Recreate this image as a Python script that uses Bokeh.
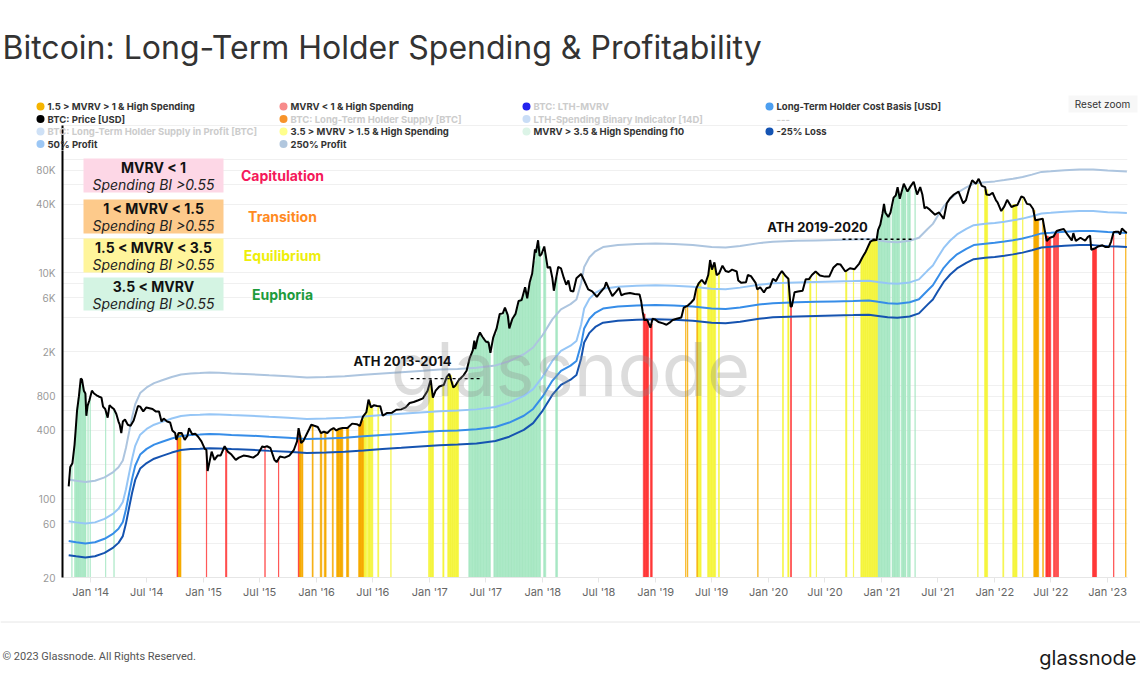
import pandas as pd
from bokeh.plotting import figure
from bokeh.layouts import column
from bokeh.models import (ColumnDataSource, Range1d, FixedTicker, DatetimeTickFormatter,
                          CustomJSTickFormatter, Label, BoxAnnotation)
from bokeh.embed import file_html
from bokeh.resources import INLINE

# ----------------------------------------------------------------- data
price_dates = [
    "2013-10-22","2013-10-27","2013-11-03","2013-11-10","2013-11-14","2013-11-18","2013-11-24","2013-11-30","2013-12-04","2013-12-10","2013-12-15","2013-12-18","2013-12-22","2013-12-28",
    "2014-01-05","2014-01-12","2014-01-20","2014-01-27","2014-02-05","2014-02-10","2014-02-17","2014-02-25","2014-03-03","2014-03-10","2014-03-17","2014-03-25","2014-04-01","2014-04-05","2014-04-10","2014-04-15","2014-04-22","2014-05-01","2014-05-10","2014-05-20","2014-05-28","2014-06-03","2014-06-10","2014-06-20","2014-06-30","2014-07-10","2014-07-20","2014-07-30","2014-08-10","2014-08-18","2014-08-25","2014-09-05","2014-09-15","2014-09-22","2014-10-01","2014-10-05","2014-10-12","2014-10-22","2014-11-01","2014-11-10","2014-11-15","2014-11-25","2014-12-05","2014-12-15","2014-12-25",
    "2015-01-05","2015-01-10","2015-01-14","2015-01-20","2015-01-27","2015-02-05","2015-02-15","2015-02-25","2015-03-10","2015-03-20","2015-04-01","2015-04-15","2015-04-25","2015-05-10","2015-05-25","2015-06-10","2015-06-25","2015-07-10","2015-07-15","2015-07-25","2015-08-05","2015-08-18","2015-08-25","2015-09-05","2015-09-20","2015-10-05","2015-10-20","2015-10-30","2015-11-04","2015-11-08","2015-11-12","2015-11-20","2015-11-30","2015-12-08","2015-12-15","2015-12-25",
    "2016-01-05","2016-01-15","2016-01-25","2016-02-05","2016-02-15","2016-02-25","2016-03-05","2016-03-15","2016-03-25","2016-04-10","2016-04-25","2016-05-10","2016-05-20","2016-05-30","2016-06-10","2016-06-17","2016-06-25","2016-07-05","2016-07-15","2016-07-25","2016-08-02","2016-08-15","2016-09-01","2016-09-15","2016-10-01","2016-10-15","2016-10-28","2016-11-10","2016-11-25","2016-12-10","2016-12-25",
    "2017-01-04","2017-01-11","2017-01-20","2017-02-01","2017-02-15","2017-02-25","2017-03-05","2017-03-18","2017-03-25","2017-04-05","2017-04-20","2017-04-30","2017-05-10","2017-05-20","2017-05-25","2017-05-28","2017-06-05","2017-06-12","2017-06-20","2017-07-01","2017-07-10","2017-07-16","2017-07-25","2017-08-05","2017-08-15","2017-08-25","2017-09-01","2017-09-10","2017-09-15","2017-09-25","2017-10-05","2017-10-15","2017-10-25","2017-11-05","2017-11-12","2017-11-20","2017-11-28","2017-12-07","2017-12-10","2017-12-17","2017-12-22","2017-12-28",
    "2018-01-06","2018-01-12","2018-01-17","2018-01-25","2018-02-01","2018-02-06","2018-02-12","2018-02-20","2018-03-01","2018-03-10","2018-03-18","2018-03-25","2018-04-01","2018-04-10","2018-04-20","2018-05-05","2018-05-15","2018-05-28","2018-06-10","2018-06-25","2018-07-05","2018-07-20","2018-07-25","2018-08-05","2018-08-14","2018-08-25","2018-09-05","2018-09-12","2018-09-25","2018-10-10","2018-10-25","2018-11-10","2018-11-15","2018-11-20","2018-11-25","2018-12-05","2018-12-15","2018-12-22","2018-12-30",
    "2019-01-10","2019-01-25","2019-02-05","2019-02-15","2019-02-25","2019-03-10","2019-03-25","2019-04-02","2019-04-15","2019-04-25","2019-05-05","2019-05-12","2019-05-20","2019-05-30","2019-06-10","2019-06-20","2019-06-26","2019-07-02","2019-07-10","2019-07-17","2019-07-25","2019-08-05","2019-08-15","2019-08-25","2019-09-05","2019-09-20","2019-09-25","2019-10-05","2019-10-20","2019-10-26","2019-11-05","2019-11-20","2019-11-25","2019-12-05","2019-12-17","2019-12-25",
    "2020-01-05","2020-01-15","2020-01-25","2020-02-05","2020-02-13","2020-02-25","2020-03-05","2020-03-12","2020-03-16","2020-03-25","2020-04-05","2020-04-20","2020-04-30","2020-05-10","2020-05-20","2020-06-01","2020-06-15","2020-07-01","2020-07-15","2020-07-28","2020-08-10","2020-08-20","2020-09-05","2020-09-20","2020-10-05","2020-10-20","2020-10-30","2020-11-10","2020-11-25","2020-12-01","2020-12-15","2020-12-20","2020-12-27",
    "2021-01-03","2021-01-08","2021-01-12","2021-01-22","2021-01-29","2021-02-08","2021-02-15","2021-02-21","2021-02-28","2021-03-13","2021-03-25","2021-04-05","2021-04-14","2021-04-25","2021-05-05","2021-05-12","2021-05-19","2021-05-25","2021-06-05","2021-06-22","2021-07-05","2021-07-20","2021-07-30","2021-08-10","2021-08-22","2021-09-06","2021-09-21","2021-09-30","2021-10-10","2021-10-20","2021-11-01","2021-11-10","2021-11-20","2021-12-01","2021-12-05","2021-12-15","2021-12-25",
    "2022-01-05","2022-01-10","2022-01-22","2022-02-01","2022-02-10","2022-02-24","2022-03-05","2022-03-15","2022-03-28","2022-04-05","2022-04-15","2022-04-25","2022-05-05","2022-05-12","2022-05-25","2022-06-05","2022-06-13","2022-06-18","2022-06-28","2022-07-10","2022-07-20","2022-07-30","2022-08-12","2022-08-25","2022-09-07","2022-09-12","2022-09-20","2022-10-05","2022-10-20","2022-10-29","2022-11-05","2022-11-09","2022-11-20","2022-12-01","2022-12-15","2022-12-25",
    "2023-01-05","2023-01-12","2023-01-20","2023-01-28","2023-02-05","2023-02-10","2023-02-16","2023-02-25","2023-03-04",
]
price_usd = [
    128,190,205,300,420,600,800,1150,1130,900,850,540,660,740,
    900,850,820,800,780,650,620,520,670,640,620,560,480,450,380,480,500,450,440,490,580,660,650,590,640,630,620,590,590,480,510,480,470,400,380,330,380,380,330,360,420,370,375,350,320,
    275,270,175,210,260,220,240,240,290,260,245,220,230,240,237,230,245,290,285,290,280,220,210,235,230,240,270,320,420,370,310,325,370,410,450,440,
    430,380,390,380,405,420,400,415,420,420,460,455,440,530,580,750,640,670,660,655,540,570,575,610,615,640,700,715,740,770,900,
    1130,780,900,980,1010,1190,1270,960,1000,1120,1230,1350,1750,2050,2500,2100,2650,2950,2700,2450,2400,1950,2650,3200,4300,4350,4900,4200,3200,3900,4300,5600,5700,7400,5900,8200,9800,16000,15000,19300,14000,14500,
    17000,13500,11000,11200,9000,6900,8500,11200,10900,9000,7800,8500,6900,6800,8900,9700,8500,7100,6800,6100,6600,7400,8200,7000,6200,6700,7300,6300,6500,6600,6450,6400,5600,4500,3800,3800,3250,3900,3850,
    3650,3550,3450,3600,3800,3900,4000,4900,5100,5400,5800,7200,8000,8600,7900,9500,12900,10600,12300,9500,9800,11500,10300,10100,10600,10200,8500,8100,8200,9500,9300,8100,7100,7400,6650,7250,
    7400,8800,8400,9600,10300,9300,8800,5000,5000,6700,6800,6900,8700,8700,9500,10200,9400,9200,9200,11000,11900,11800,10200,10900,10700,12000,13600,15300,18800,19200,19400,23800,26500,
    33000,40500,34000,31000,34000,46000,48000,57000,45000,61000,52000,58500,63500,49000,57000,49000,37000,38000,36000,32500,34000,29800,41000,45500,49000,52000,41000,43800,55000,65500,61000,67500,58500,57000,49000,48500,50800,
    43500,41800,35000,38500,44000,38000,39000,39500,47200,46000,40500,40000,36500,29000,29500,29900,22500,19000,20300,20800,23300,23800,24300,21500,19200,22300,19000,20300,19100,20700,21200,15900,16300,17000,17400,16800,
    16850,18800,22700,23000,23000,21700,24500,23200,22400,
]

band_dates = [
    "2013-10-22","2013-11-15","2013-12-15","2014-01-15","2014-02-15","2014-03-15","2014-04-01","2014-04-15","2014-04-25","2014-05-05","2014-05-15","2014-05-25","2014-06-10","2014-07-01","2014-07-25","2014-08-20","2014-09-20","2014-10-20","2014-11-20","2014-12-20",
    "2015-01-20","2015-02-20","2015-04-01","2015-06-01","2015-08-01","2015-10-01","2015-12-01",
    "2016-02-01","2016-04-01","2016-06-01","2016-08-01","2016-10-01","2016-12-01",
    "2017-02-01","2017-04-01","2017-06-01","2017-08-01","2017-09-15","2017-11-01","2017-12-01",
    "2018-01-01","2018-02-01","2018-03-01","2018-04-01","2018-04-20","2018-05-05","2018-05-15","2018-06-01","2018-06-20","2018-07-15","2018-09-01","2018-11-01",
    "2019-01-01","2019-03-01","2019-05-01","2019-07-01","2019-08-15","2019-10-01","2019-12-01",
    "2020-01-15","2020-04-01","2020-06-01","2020-08-01","2020-10-01","2020-11-20","2020-12-20",
    "2021-01-20","2021-02-20","2021-04-01","2021-05-01","2021-05-28","2021-06-15","2021-06-30","2021-07-20","2021-08-10","2021-09-01","2021-10-01","2021-10-25","2021-12-01",
    "2022-01-01","2022-02-01","2022-03-01","2022-04-01","2022-05-01","2022-06-01","2022-07-01","2022-08-15","2022-10-01","2022-11-15",
    "2023-01-01","2023-02-01","2023-03-04",
]
lth_cost_basis = [
    42,41,40,41,44,49,54,62,80,110,150,195,245,275,300,318,340,358,365,368,
    372,370,365,360,352,345,337,
    340,345,355,365,375,385,
    395,400,410,430,470,540,620,
    800,1100,1350,1500,1650,2300,3200,3900,4400,4800,5000,5100,
    5150,5100,5000,4800,4750,4900,5200,
    5350,5450,5500,5550,5600,5650,5500,
    5350,5300,5450,5800,6900,7700,9000,11000,12800,14500,16200,17500,18000,
    18300,18800,19300,20000,21000,22200,22500,23000,23300,23300,
    22800,22600,22400,
]
loss_25 = [
    31.5,30.8,30,30.8,33,36.8,40.5,46.5,60,82.5,112.5,146,184,206,225,238.5,255,268.5,274,276,
    279,277.5,274,270,264,259,253,
    255,259,266,274,281,289,
    296,300,307.5,322.5,352.5,405,465,
    600,825,1012,1125,1237,1725,2400,2925,3300,3600,3750,3825,
    3862,3825,3750,3600,3562,3675,3900,
    4012,4087,4125,4162,4200,4237,4125,
    4012,3975,4087,4350,5175,5775,6750,8250,9600,10875,12150,13125,13500,
    13725,14100,14475,15000,15750,16650,16875,17250,17475,17475,
    17100,16950,16800,
]
profit_50 = [
    63,61.5,60,61.5,66,73.5,81,93,120,165,225,292.5,367.5,412.5,450,477,510,537,547.5,552,
    558,555,547.5,540,528,517.5,505.5,
    510,517.5,532.5,547.5,562.5,577.5,
    592.5,600,615,645,705,810,930,
    1200,1650,2025,2250,2475,3450,4800,5850,6600,7200,7500,7650,
    7725,7650,7500,7200,7125,7350,7800,
    8025,8175,8250,8325,8400,8475,8250,
    8025,7950,8175,8700,10350,11550,13500,16500,19200,21750,24300,26250,27000,
    27450,28200,28950,30000,31500,33300,33750,34500,34950,34950,
    34200,33900,33600,
]
profit_250 = [
    147,143.5,140,143.5,154,171.5,189,217,280,385,525,682.5,857.5,962.5,1050,1113,1190,1253,1277.5,1288,
    1302,1295,1277.5,1260,1232,1207.5,1179.5,
    1190,1207.5,1242.5,1277.5,1312.5,1347.5,
    1382.5,1400,1435,1505,1645,1890,2170,
    2800,3850,4725,5250,5775,8050,11200,13650,15400,16800,17500,17850,
    18025,17850,17500,16800,16625,17150,18200,
    18725,19075,19250,19425,19600,19775,19250,
    18725,18550,19075,20300,24150,26950,31500,38500,44800,50750,56700,61250,63000,
    64050,65800,67550,70000,73500,77700,78750,80500,81550,81550,
    79800,79100,78400,
]

# LTH high-spending days: (first day, number of days, BTC price on those days)
spend_mvrv_below_1 = [
    ("2014-10-07",2,340),("2015-01-10",1,265),("2015-03-13",4,270),("2015-07-18",1,285),("2015-08-31",1,230),
    ("2015-11-03",2,400),("2018-11-22",6,4300),("2018-11-28",6,3900),("2018-12-04",5,3750),("2018-12-15",6,3500),
    ("2020-03-12",3,5200),("2022-06-15",8,21000),("2022-06-23",8,20000),("2022-07-10",4,21000),("2022-07-16",4,22500),
    ("2022-07-22",4,23000),("2022-11-13",13,16400),("2023-01-20",1,21500),
]
spend_mvrv_1_to_1_5 = [
    ("2014-10-09",11,375),("2015-11-05",8,360),("2015-11-14",4,330),("2015-12-18",3,440),("2016-01-13",5,385),
    ("2016-01-26",6,385),("2016-02-21",3,410),("2016-03-06",10,410),("2016-03-16",10,418),("2016-04-07",7,420),
    ("2016-05-16",8,450),("2016-05-24",8,490),("2019-04-08",1,5100),("2019-04-14",1,5150),("2019-05-14",2,7400),
    ("2019-11-27",1,7100),("2022-05-07",4,35500),("2022-05-11",12,29500),("2022-06-05",2,29900),("2023-02-28",1,23000),
]
spend_mvrv_1_5_to_3_5 = [
    ("2016-06-01",5,540),("2016-06-06",5,580),("2016-06-14",4,700),("2016-06-18",5,730),("2016-06-23",4,650),
    ("2016-06-27",4,660),("2016-07-17",3,660),("2016-08-28",1,575),("2016-12-28",4,930),("2017-01-01",6,1050),
    ("2017-01-07",6,850),("2017-02-12",4,1000),("2017-02-28",6,1210),("2017-03-06",6,1230),("2017-03-12",6,1080),
    ("2017-03-18",6,960),("2017-03-24",6,1010),("2017-03-30",5,1080),("2019-05-16",6,8000),("2019-05-22",6,8200),
    ("2019-06-18",5,9500),("2019-06-23",5,12000),("2019-06-28",5,11500),("2019-07-03",5,11000),("2019-07-08",6,11800),
    ("2019-07-23",3,9800),("2020-02-15",3,10000),("2020-03-03",4,8900),("2020-05-13",4,9000),("2020-06-03",1,10000),
    ("2020-09-06",4,10300),("2020-10-01",1,10700),("2020-10-25",6,13000),("2020-10-31",6,13700),("2020-11-06",6,15000),
    ("2020-11-12",6,16000),("2020-11-18",6,17800),("2020-11-24",6,18700),("2020-11-30",6,19100),("2020-12-06",6,19200),
    ("2020-12-12",6,19500),("2021-11-07",1,64000),("2021-11-29",10,54000),("2022-01-27",3,37000),("2022-02-28",7,40000),
    ("2022-03-07",7,40000),("2022-04-01",1,45000),
]
spend_mvrv_above_3_5 = [
    ("2013-11-01",1,205),("2013-11-10",4,330),("2013-11-14",4,450),("2013-11-18",3,650),("2013-11-21",4,780),
    ("2013-11-25",4,950),("2013-11-29",3,1150),("2013-12-02",4,1120),("2013-12-06",4,980),("2013-12-10",3,900),
    ("2013-12-13",4,840),("2013-12-23",1,680),("2013-12-30",1,760),("2014-02-18",1,610),("2014-03-17",1,620),
    ("2017-05-07",5,1700),("2017-05-12",5,1800),("2017-05-17",5,2050),("2017-05-22",5,2300),("2017-05-27",5,2300),
    ("2017-06-01",5,2500),("2017-06-06",5,2750),("2017-06-11",5,2900),("2017-06-16",5,2600),("2017-06-21",5,2650),
    ("2017-06-26",5,2500),("2017-07-01",5,2450),("2017-07-06",5,2500),("2017-07-11",5,2300),("2017-07-27",5,2700),
    ("2017-08-01",5,2850),("2017-08-06",5,3300),("2017-08-11",5,3800),("2017-08-16",5,4250),("2017-08-21",5,4100),
    ("2017-08-26",5,4400),("2017-08-31",5,4700),("2017-09-05",5,4450),("2017-09-10",5,4100),("2017-09-15",5,3500),
    ("2017-09-20",5,3800),("2017-09-25",5,3900),("2017-09-30",5,4300),("2017-10-05",5,4400),("2017-10-10",5,4900),
    ("2017-10-15",5,5600),("2017-10-20",5,5900),("2017-10-25",5,5800),("2017-10-30",5,6400),("2017-11-04",5,7300),
    ("2017-11-09",5,6800),("2017-11-14",5,6600),("2017-11-19",5,8000),("2017-11-24",5,8800),("2017-11-29",5,10500),
    ("2017-12-04",5,12500),("2017-12-09",5,16000),("2017-12-14",5,18000),("2017-12-19",6,17000),("2018-01-04",7,15000),
    ("2018-02-12",6,9000),("2020-12-18",5,23000),("2020-12-23",5,25500),("2020-12-28",5,28500),("2021-01-02",5,33000),
    ("2021-01-07",5,39000),("2021-01-12",5,35000),("2021-01-17",5,33000),("2021-01-22",6,31500),("2021-02-03",5,38000),
    ("2021-02-08",5,46000),("2021-02-13",5,48000),("2021-02-18",5,54000),("2021-02-23",5,48000),("2021-03-05",5,50000),
    ("2021-03-10",5,57000),("2021-03-15",5,58000),("2021-03-25",4,53000),("2021-03-30",4,58000),("2021-04-18",1,60000),
]

ath_2013_2014_span = ["2016-10-31", "2017-06-14"]
ath_2013_2014_price = 1150
ath_2019_2020_span = ["2020-08-27", "2021-04-14"]
ath_2019_2020_price = 19700

x_tick_dates = [f"{y}-{m}-01" for y in range(2014, 2024) for m in ("01", "07")][:-1]
y_tick_values = [20, 60, 100, 400, 800, 2000, 6000, 10000, 40000, 80000]
y_grid_values = [20, 40, 60, 80, 100, 200, 400, 600, 800, 1000, 2000, 4000, 6000, 8000,
                 10000, 20000, 40000, 60000, 80000, 100000, 200000]

assert len(price_dates) == len(price_usd)
for arr in (lth_cost_basis, loss_25, profit_50, profit_250):
    assert len(arr) == len(band_dates)

# ----------------------------------------------------------------- layout (page pixels)
PAGE_W = 1140
HEADER_H, MAIN_H, FOOTER_H = 150, 460, 84
FRAME_LEFT, FRAME_RIGHT = 62, 1127          # plot frame, page x
FRAME_TOP, FRAME_BOTTOM = 150, 577          # plot frame, page y
AXIS_TOP = 125                               # page y of the 200K line
y_axis_min = 20
# the log axis spans 20 .. 200K between AXIS_TOP and FRAME_BOTTOM; the frame starts a bit lower
y_frame_max = y_axis_min * 10 ** (4 * (FRAME_BOTTOM - FRAME_TOP) / (FRAME_BOTTOM - AXIS_TOP))


def no_align(f):
    try:
        f.frame_align = False
    except Exception:
        pass


def deco_figure(h):
    f = figure(width=PAGE_W, height=h, x_range=Range1d(0, PAGE_W), y_range=Range1d(h, 0),
               x_axis_location=None, y_axis_location=None, output_backend="svg",
               toolbar_location=None, min_border=0)
    f.outline_line_color = None
    f.grid.visible = False
    no_align(f)
    return f


def put(f, t, x, y, size, color="#333333", align="left", style="normal", font="Inter",
        baseline="middle", alpha=1.0, units="data", **kw):
    f.add_layout(Label(x=x, y=y, x_units=units, y_units=units, text=t, text_font=font,
                       text_font_size=f"{size}px", text_color=color, text_align=align,
                       text_baseline=baseline, text_font_style=style, text_alpha=alpha, **kw))


# ----------------------------------------------------------------- header
header = deco_figure(HEADER_H)
put(header, "Bitcoin: Long-Term Holder Spending & Profitability", 2, 47, 32, color="#333333")

legend_items = [
    ("1.5 > MVRV > 1 & High Spending", "#f5b400", True),
    ("MVRV < 1 & High Spending", "#f78b8b", True),
    ("BTC: LTH-MVRV", "#2323ee", False),
    ("Long-Term Holder Cost Basis [USD]", "#4d9ff0", True),
    ("BTC: Price [USD]", "#000000", True),
    ("BTC: Long-Term Holder Supply [BTC]", "#f7932a", False),
    ("LTH-Spending Binary Indicator [14D]", "#c9ddf6", False),
    ("---", None, False),
    ("BTC: Long-Term Holder Supply in Profit [BTC]", "#cfe1f6", False),
    ("3.5 > MVRV > 1.5 & High Spending", "#ffff8c", True),
    ("MVRV > 3.5 & High Spending f10", "#dcf4e7", True),
    ("-25% Loss", "#1554b3", True),
    ("50% Profit", "#9cc7f5", True),
    ("250% Profit", "#b1c7de", True),
]
legend_col_px = [40, 283, 526, 769]
legend_row_px = [106, 118.5, 131, 143.5]

# continuation of the plot's top grid line and y axis behind the legend
header.segment(x0=[FRAME_LEFT], y0=[AXIS_TOP], x1=[FRAME_RIGHT], y1=[AXIS_TOP],
               line_color="#f0f0f0", line_width=1)

dot_x, dot_y, dot_c = [], [], []
for i, (lab, col, active) in enumerate(legend_items):
    cx = legend_col_px[i % 4]
    cy = legend_row_px[i // 4]
    if col is not None:
        dot_x.append(cx)
        dot_y.append(cy)
        dot_c.append(col)
    put(header, lab, cx + 7, cy, 9.5, color="#333333" if active else "#cccccc", style="bold")
header.scatter(dot_x, dot_y, size=8, color=dot_c, line_color=None)

header.segment(x0=[FRAME_LEFT], y0=[AXIS_TOP], x1=[FRAME_LEFT], y1=[HEADER_H],
               line_color="black", line_width=2)

header.quad(left=[1068], right=[1137], top=[95], bottom=[112], fill_color="#f7f7f7", line_color=None)
put(header, "Reset zoom", 1102, 103.5, 10, color="#333333", align="center")

# ----------------------------------------------------------------- main chart
p = figure(width=PAGE_W, height=MAIN_H, x_axis_type="datetime", y_axis_type="log",
           x_range=Range1d(pd.Timestamp("2013-10-02"), pd.Timestamp("2023-03-06")),
           y_range=Range1d(y_axis_min, y_frame_max),
           output_backend="svg", toolbar_location=None,
           min_border_left=FRAME_LEFT, min_border_right=PAGE_W - FRAME_RIGHT,
           min_border_top=0, min_border_bottom=MAIN_H - (FRAME_BOTTOM - HEADER_H))
p.outline_line_color = None
no_align(p)

p.yaxis.ticker = FixedTicker(ticks=y_tick_values, minor_ticks=y_grid_values)
p.yaxis.formatter = CustomJSTickFormatter(code="return tick >= 1000 ? (tick / 1000) + 'K' : String(tick);")
p.yaxis.axis_line_color = "black"
p.yaxis.axis_line_width = 2
p.yaxis.major_tick_line_color = None
p.yaxis.minor_tick_line_color = None
p.yaxis.major_tick_out = 0
p.yaxis.major_tick_in = 0
p.yaxis.minor_tick_out = 0
p.yaxis.minor_tick_in = 0
p.yaxis.major_label_standoff = 7
p.yaxis.major_label_text_font = "Inter"
p.yaxis.major_label_text_font_size = "10px"
p.yaxis.major_label_text_color = "#999999"

x_ticks_ms = [pd.Timestamp(d).value // 10**6 for d in x_tick_dates]
p.xaxis.ticker = FixedTicker(ticks=x_ticks_ms)
fmt = "%b '%y"
p.xaxis.formatter = DatetimeTickFormatter(days=fmt, months=fmt, years=fmt)
p.xaxis.axis_line_color = "#e6e6e6"
p.xaxis.major_tick_line_color = "#e6e6e6"
p.xaxis.minor_tick_line_color = None
p.xaxis.major_tick_out = 5
p.xaxis.major_tick_in = 0
p.xaxis.major_label_standoff = 2
p.xaxis.major_label_text_font = "Inter"
p.xaxis.major_label_text_font_size = "11px"
p.xaxis.major_label_text_color = "#666666"

p.xgrid.grid_line_color = None
p.ygrid.grid_line_color = "#f0f0f0"
p.ygrid.minor_grid_line_color = "#f0f0f0"


def spend_source(events):
    left = pd.to_datetime([e[0] for e in events])
    right = left + pd.to_timedelta([e[1] for e in events], unit="D")
    return ColumnDataSource(dict(left=left.to_numpy(), right=right.to_numpy(),
                                 top=[e[2] for e in events],
                                 bottom=[y_axis_min] * len(events)))


for events, color in ((spend_mvrv_above_3_5, "#a8e8c4"),
                      (spend_mvrv_1_5_to_3_5, "#f5f53e"),
                      (spend_mvrv_1_to_1_5, "#f6ab00"),
                      (spend_mvrv_below_1, "#ff3838")):
    p.quad(left="left", right="right", bottom="bottom", top="top", source=spend_source(events),
           fill_color=color, line_color=color, line_width=0.6)

bd = pd.to_datetime(band_dates)
p.line(bd, profit_250, line_color="#adc5df", line_width=2)
p.line(bd, profit_50, line_color="#96c6f6", line_width=2)
p.line(bd, lth_cost_basis, line_color="#368de8", line_width=2)
p.line(bd, loss_25, line_color="#1553b0", line_width=2)

p.line(pd.to_datetime(ath_2013_2014_span), [ath_2013_2014_price] * 2,
       line_color="black", line_width=1.3, line_dash="3 3")
p.line(pd.to_datetime(ath_2019_2020_span), [ath_2019_2020_price] * 2,
       line_color="black", line_width=1.3, line_dash="3 3")

p.line(pd.to_datetime(price_dates), price_usd, line_color="black", line_width=2)


def mtext(t, px, py, size, **kw):
    put(p, t, px - FRAME_LEFT, FRAME_BOTTOM - py, size, units="screen", **kw)


def mbox(x0, y0, x1, y1, color):
    p.add_layout(BoxAnnotation(left=x0 - FRAME_LEFT, right=x1 - FRAME_LEFT,
                               top=FRAME_BOTTOM - y0, bottom=FRAME_BOTTOM - y1,
                               left_units="screen", right_units="screen",
                               top_units="screen", bottom_units="screen",
                               fill_color=color, fill_alpha=1.0, line_color=None))


mtext("glassnode", 570, 368, 74, color="#8a8a8a", align="center", baseline="alphabetic", alpha=0.3)

regimes = [
    ("MVRV < 1", "Capitulation", "#fdd7e6", "#f5185a", 158, 192),
    ("1 < MVRV < 1.5", "Transition", "#fdca8b", "#ff8a1f", 199, 233),
    ("1.5 < MVRV < 3.5", "Equilibrium", "#fff59b", "#eeee0a", 238, 272),
    ("3.5 < MVRV", "Euphoria", "#d4f4e3", "#1d9b3c", 277, 310),
]
for cond, name, fill, tcol, y0, y1 in regimes:
    mbox(83, y0, 223, y1, fill)
    mtext(cond, 153, y0 + 9, 14, color="#111111", align="center", style="bold")
    mtext("Spending BI >0.55", 153, y0 + 26, 14, color="#222222", align="center", style="italic")
    mtext(name, 282, (y0 + y1) / 2, 14, color=tcol, align="center", style="bold")

mtext("ATH 2013-2014", 402, 360, 13, color="#111111", align="center", style="bold")
mtext("ATH 2019-2020", 817, 226, 13, color="#111111", align="center", style="bold")

# ----------------------------------------------------------------- footer
footer = deco_figure(FOOTER_H)
footer.segment(x0=[0], y0=[11.5], x1=[PAGE_W], y1=[11.5], line_color="#e6e6e6", line_width=1)
put(footer, "\u00a9 2023 Glassnode. All Rights Reserved.", 2, 46, 11, color="#555555", font="Roboto")
put(footer, "glassnode", 1136, 47, 20, color="#1a1a1a", align="right")

layout = column(header, p, footer, spacing=0)
open("out.html", "w").write(file_html(layout, INLINE))
